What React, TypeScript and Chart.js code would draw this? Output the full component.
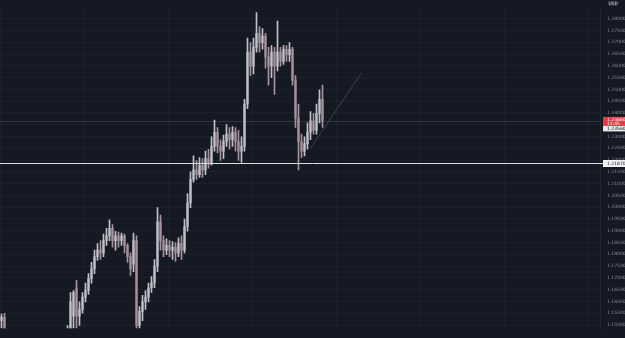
import React, { useEffect, useRef } from "react";
import { Chart, registerables } from "chart.js";
Chart.register(...registerables);

// OHLC values, one per candle slot
const opens = [
  1.1518, 1.1534, 1.1458, 1.1438, 1.1418, 1.139, 1.1406, 1.1366, 1.135, 1.1378,
  1.1338, 1.1318, 1.135, 1.1326, 1.1358, 1.1378, 1.135, 1.1398, 1.139, 1.1418,
  1.143, 1.1446, 1.1458, 1.1478, 1.1538, 1.1658, 1.1538, 1.1566, 1.1618, 1.1646,
  1.1698, 1.1738, 1.179, 1.1818, 1.1806, 1.1858, 1.1878, 1.191, 1.1858, 1.1878,
  1.1858, 1.1878, 1.1838, 1.179, 1.1758, 1.1858, 1.1498, 1.1558, 1.1598, 1.1618,
  1.1658, 1.1678, 1.175, 1.1938, 1.1858, 1.1818, 1.1838, 1.1818, 1.183, 1.1806,
  1.1846, 1.1818, 1.1918, 1.2018, 1.2118, 1.2158, 1.2138, 1.2178, 1.2158, 1.2206,
  1.219, 1.2258, 1.2318, 1.2258, 1.2238, 1.2278, 1.231, 1.2286, 1.2318, 1.2278,
  1.2238, 1.2258, 1.2438, 1.2658, 1.2598, 1.2678, 1.2738, 1.2698, 1.2726, 1.2638,
  1.2598, 1.2658, 1.2598, 1.2658, 1.2618, 1.267, 1.2646, 1.267, 1.2538, 1.2378,
  1.2278, 1.2238, 1.227, 1.2318, 1.2366, 1.2326, 1.2398, 1.2458,
];
const highs = [
  1.1546, 1.155, 1.1478, 1.1458, 1.1438, 1.1418, 1.1418, 1.1378, 1.1398, 1.139,
  1.1358, 1.1366, 1.137, 1.1378, 1.1398, 1.139, 1.1418, 1.1418, 1.1438, 1.1458,
  1.147, 1.1478, 1.1498, 1.1638, 1.1646, 1.169, 1.1598, 1.1638, 1.1678, 1.1718,
  1.1766, 1.1818, 1.1846, 1.1858, 1.1886, 1.191, 1.1946, 1.1926, 1.1898, 1.1894,
  1.189, 1.1886, 1.1846, 1.1806, 1.189, 1.1878, 1.1578, 1.1626, 1.1646, 1.1678,
  1.1706, 1.1778, 1.1998, 1.1966, 1.1878, 1.1866, 1.1858, 1.1854, 1.185, 1.187,
  1.1878, 1.195, 1.2058, 1.215, 1.2218, 1.2198, 1.221, 1.2206, 1.2238, 1.2246,
  1.2298, 1.237, 1.2338, 1.2286, 1.2306, 1.235, 1.2338, 1.2342, 1.2338, 1.2326,
  1.2298, 1.2458, 1.2718, 1.2698, 1.2718, 1.2826, 1.2766, 1.2758, 1.2738, 1.2678,
  1.2686, 1.2678, 1.279, 1.2678, 1.2686, 1.2686, 1.2698, 1.2678, 1.2558, 1.2438,
  1.231, 1.2298, 1.2358, 1.2406, 1.2398, 1.2438, 1.2498, 1.2518,
];
const lows = [
  1.1486, 1.1438, 1.1418, 1.1398, 1.137, 1.1378, 1.135, 1.133, 1.1338, 1.1318,
  1.1298, 1.1306, 1.1306, 1.1318, 1.135, 1.133, 1.1338, 1.137, 1.1378, 1.1406,
  1.1418, 1.143, 1.1438, 1.1458, 1.1486, 1.1478, 1.1498, 1.155, 1.1598, 1.163,
  1.1678, 1.1718, 1.1774, 1.1778, 1.179, 1.1838, 1.1858, 1.183, 1.1818, 1.183,
  1.1838, 1.1806, 1.1766, 1.171, 1.1726, 1.1458, 1.147, 1.1518, 1.1566, 1.1598,
  1.1638, 1.1658, 1.1726, 1.1818, 1.179, 1.1798, 1.179, 1.1778, 1.177, 1.179,
  1.1778, 1.1806, 1.1898, 1.1998, 1.2106, 1.2118, 1.2126, 1.2126, 1.2138, 1.2166,
  1.2178, 1.2238, 1.223, 1.2198, 1.2206, 1.2258, 1.2246, 1.2258, 1.2238, 1.2198,
  1.219, 1.2238, 1.2418, 1.2558, 1.2566, 1.2658, 1.2658, 1.267, 1.259, 1.2518,
  1.255, 1.2478, 1.2578, 1.2598, 1.2606, 1.2618, 1.2618, 1.2518, 1.2338, 1.2158,
  1.221, 1.2218, 1.2246, 1.2286, 1.231, 1.231, 1.2358, 1.2338,
];
const closes = [
  1.1534, 1.1458, 1.1438, 1.1418, 1.139, 1.1406, 1.1366, 1.135, 1.1378, 1.1338,
  1.1318, 1.135, 1.1326, 1.1358, 1.1378, 1.135, 1.1398, 1.139, 1.1418, 1.143,
  1.1446, 1.1458, 1.1478, 1.1598, 1.1638, 1.1538, 1.1566, 1.1618, 1.1646, 1.1698,
  1.1738, 1.179, 1.1818, 1.1806, 1.1858, 1.1878, 1.191, 1.1858, 1.1878, 1.1858,
  1.1878, 1.1838, 1.179, 1.1738, 1.1858, 1.1498, 1.1558, 1.1598, 1.1618, 1.1658,
  1.1678, 1.175, 1.1938, 1.1858, 1.1818, 1.1838, 1.1818, 1.183, 1.1806, 1.1846,
  1.1818, 1.1918, 1.2018, 1.2118, 1.2158, 1.2138, 1.2178, 1.2158, 1.2206, 1.219,
  1.2258, 1.2318, 1.2258, 1.2238, 1.2278, 1.231, 1.2286, 1.2318, 1.2278, 1.2238,
  1.2258, 1.2438, 1.2658, 1.2598, 1.2678, 1.2738, 1.2698, 1.2726, 1.2638, 1.2598,
  1.2658, 1.2598, 1.2658, 1.2618, 1.267, 1.2646, 1.267, 1.2538, 1.2378, 1.2278,
  1.2238, 1.227, 1.2318, 1.2366, 1.2326, 1.2398, 1.2458, 1.2366,
];

const SLOT_COUNT = 200;
const slotLabels = Array.from({ length: SLOT_COUNT }, (_, i) => String(i));

const trendLine = [
  { x: "103", y: 1.225 },
  { x: "120", y: 1.257 },
];
const horizontalLevel = 1.2187;
const countdownText = "12:45";
const secondaryLabel = 1.2356;
const currencyText = "USD";

const Y_MIN = 1.1486;
const Y_MAX = 1.2838;
const Y_STEP = 0.005;

const UP = "#bfc1c8";
const DOWN = "#a6929d";
const BG = "#151924";

const overlayPlugin = {
  id: "overlay",
  beforeDatasetsDraw(chart: any) {
    const { ctx, chartArea, scales } = chart;
    const y = scales.y;
    const lastPrice = closes[closes.length - 1];
    ctx.save();
    const py = Math.round(y.getPixelForValue(lastPrice)) + 0.5;
    ctx.strokeStyle = "rgba(200,200,210,0.16)";
    ctx.lineWidth = 1;
    ctx.beginPath();
    ctx.moveTo(chartArea.left, py);
    ctx.lineTo(chartArea.right, py);
    ctx.stroke();
    ctx.restore();
  },
  afterDraw(chart: any) {
    const { ctx, chartArea, scales, width } = chart;
    const y = scales.y;
    const lastPrice = closes[closes.length - 1];
    ctx.save();
    const hy = Math.round(y.getPixelForValue(horizontalLevel)) + 0.5;
    ctx.strokeStyle = "#dcdde1";
    ctx.lineWidth = 1;
    ctx.beginPath();
    ctx.moveTo(0, hy);
    ctx.lineTo(width, hy);
    ctx.stroke();

    const lx = chartArea.right + 1;
    const lw = width - lx;
    ctx.font = "4.5px 'DejaVu Sans'";
    ctx.textBaseline = "middle";
    ctx.textAlign = "left";

    ctx.fillStyle = "#f2f2f4";
    ctx.fillRect(lx + 2, hy - 3.5, lw - 2, 7);
    ctx.fillStyle = "#131722";
    ctx.fillText(horizontalLevel.toFixed(5), lx + 6, hy);

    const py = y.getPixelForValue(lastPrice);
    ctx.fillStyle = "#f23645";
    ctx.fillRect(lx + 2, py - 4, lw - 2, 9);
    ctx.fillStyle = "#ffffff";
    ctx.fillText(lastPrice.toFixed(5), lx + 6, py - 1.5);
    ctx.fillText(countdownText, lx + 6, py + 2.5);

    ctx.fillStyle = "#e9e9ec";
    ctx.fillRect(lx + 2, py + 5, lw - 2, 5.5);
    ctx.fillStyle = "#131722";
    ctx.fillText(secondaryLabel.toFixed(5), lx + 6, py + 7.8);

    ctx.fillStyle = "#2a2e39";
    ctx.fillRect(lx + 7, 1, 9, 5);
    ctx.fillStyle = "#d1d4dc";
    ctx.fillText(currencyText, lx + 7.5, 3.6);
    ctx.restore();
  },
};

export default function App() {
  const ref = useRef<HTMLCanvasElement | null>(null);
  useEffect(() => {
    if (!ref.current) return;
    const colors = opens.map((o, i) => (closes[i] >= o ? UP : DOWN));
    const chart = new Chart(ref.current, {
      type: "bar",
      data: {
        labels: slotLabels,
        datasets: [
          {
            type: "bar",
            data: lows.map((l, i) => [l, highs[i]]) as any,
            backgroundColor: colors,
            barThickness: 1,
            grouped: false,
            order: 2,
          } as any,
          {
            type: "bar",
            data: opens.map((o, i) => [o, closes[i]]) as any,
            backgroundColor: colors,
            barThickness: 1.6,
            minBarLength: 1,
            grouped: false,
            order: 1,
          } as any,
          {
            type: "line",
            data: trendLine as any,
            borderColor: "rgba(150,152,162,0.4)",
            borderWidth: 0.8,
            pointRadius: 0,
            order: 0,
          } as any,
        ],
      },
      options: {
        animation: false,
        responsive: false,
        maintainAspectRatio: false,
        layout: { padding: 0 },
        plugins: {
          legend: { display: false },
          tooltip: { enabled: false },
        },
        scales: {
          x: {
            display: true,
            offset: true,
            border: { display: false },
            ticks: { display: false },
            grid: {
              drawTicks: false,
              color: (c: any) =>
                c.index % 28 === 0 ? "rgba(255,255,255,0.03)" : "rgba(0,0,0,0)",
            },
          },
          y: {
            position: "right",
            min: Y_MIN,
            max: Y_MAX,
            afterBuildTicks(scale: any) {
              const t: any[] = [];
              const start = Math.ceil(Y_MIN / Y_STEP);
              const end = Math.floor(Y_MAX / Y_STEP);
              for (let k = start; k <= end; k++) t.push({ value: k * Y_STEP });
              scale.ticks = t;
            },
            afterFit(scale: any) {
              scale.width = 25;
            },
            border: { color: "rgba(255,255,255,0.06)" },
            grid: { color: "rgba(255,255,255,0.03)", drawTicks: false },
            ticks: {
              color: "#878a93",
              font: { size: 4.5, family: "'DejaVu Sans'" },
              padding: 7,
              callback: (v: any) => Number(v).toFixed(5),
            },
          },
        },
      },
      plugins: [overlayPlugin],
    });
    return () => chart.destroy();
  }, []);
  return (
    <div
      style={{
        position: "fixed",
        left: 0,
        top: 0,
        width: 625,
        height: 338,
        background: BG,
      }}
    >
      <canvas ref={ref} width={625} height={338} />
    </div>
  );
}
